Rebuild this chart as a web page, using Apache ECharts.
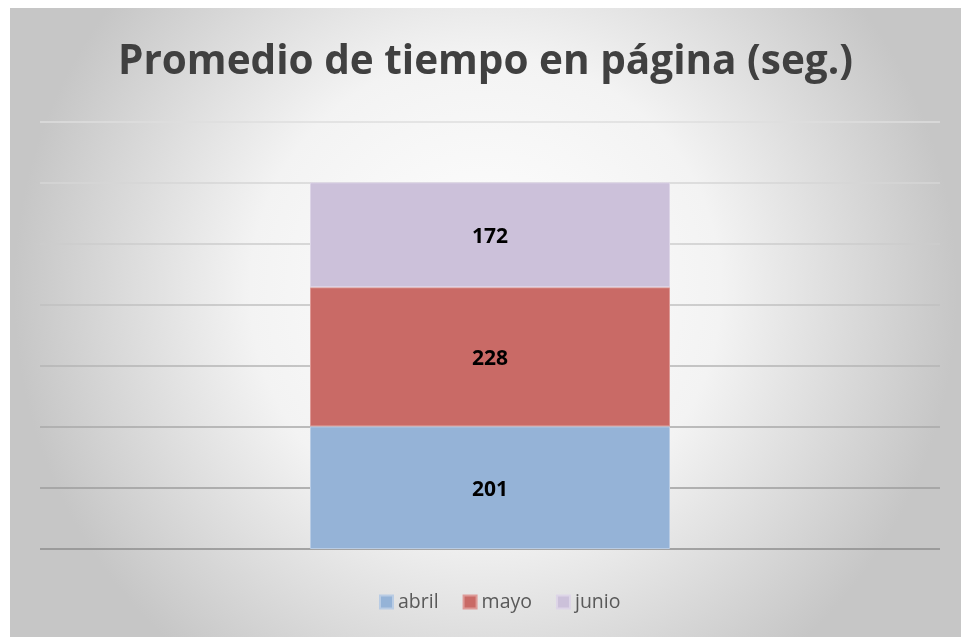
<!DOCTYPE html>
<html>
<head>
<meta charset="utf-8">
<script src="https://cdn.jsdelivr.net/npm/echarts@6/dist/echarts.min.js"></script>
<style>
html, body { margin:0; padding:0; background:#ffffff; }
#main { position:absolute; left:10px; top:8px; width:951px; height:629px; }
</style>
</head>
<body>
<div id="main"></div>
<script>
var categorias = ['Promedio'];
var abril = [201];
var mayo = [228];
var junio = [172];
var ticksY = [0, 100, 200, 300, 400, 500, 600, 700];

var myChart = echarts.init(document.getElementById('main'));
var option = {
  backgroundColor: {
    type: 'radial', x: 0.5, y: 0.45, r: 0.75,
    colorStops: [
      { offset: 0, color: '#ffffff' },
      { offset: 0.5, color: '#f3f3f3' },
      { offset: 1, color: '#c6c6c6' }
    ]
  },
  title: {
    text: 'Promedio de tiempo en página (seg.)',
    left: 'center',
    top: 29,
    textStyle: {
      color: '#404040',
      fontFamily: 'Open Sans',
      fontWeight: 'bold',
      fontSize: 40.5
    }
  },
  legend: {
    bottom: 20,
    left: 364,
    itemWidth: 13,
    itemHeight: 13,
    itemGap: 24,
    icon: 'rect',
    textStyle: { color: '#595959', fontFamily: 'Open Sans', fontSize: 19.5 },
    data: ['abril', 'mayo', 'junio']
  },
  grid: { left: 30, width: 900, top: 114, height: 427 },
  xAxis: {
    type: 'category',
    data: categorias,
    axisLine: { show: false },
    axisTick: { show: false },
    axisLabel: { show: false }
  },
  yAxis: {
    type: 'value',
    min: ticksY[0],
    max: ticksY[ticksY.length - 1],
    interval: 100,
    axisLabel: { show: false },
    axisLine: { show: false },
    axisTick: { show: false },
    splitLine: {
      lineStyle: {
        width: 1.5,
        color: ['#8c8c8c', '#9c9c9c', '#a8a8a8', '#b4b4b4', '#c0c0c0', '#cccccc', '#d6d6d6', '#dedede']
      }
    }
  },
  series: [
    {
      name: 'abril', type: 'bar', stack: 'total', barWidth: '40%',
      data: abril,
      itemStyle: { color: '#95b3d7', borderColor: '#b9cce4', borderWidth: 1 },
      label: { show: true, color: '#000000', fontWeight: 'bold', fontSize: 21, fontFamily: 'Open Sans', offset: [0, 2] }
    },
    {
      name: 'mayo', type: 'bar', stack: 'total',
      data: mayo,
      itemStyle: { color: '#c96a66', borderColor: '#dd9a97', borderWidth: 1 },
      label: { show: true, color: '#000000', fontWeight: 'bold', fontSize: 21, fontFamily: 'Open Sans', offset: [0, 2] }
    },
    {
      name: 'junio', type: 'bar', stack: 'total',
      data: junio,
      itemStyle: { color: '#ccc1da', borderColor: '#ddd5e7', borderWidth: 1 },
      label: { show: true, color: '#000000', fontWeight: 'bold', fontSize: 21, fontFamily: 'Open Sans', offset: [0, 2] }
    }
  ]
};
myChart.setOption(option);
</script>
</body>
</html>
